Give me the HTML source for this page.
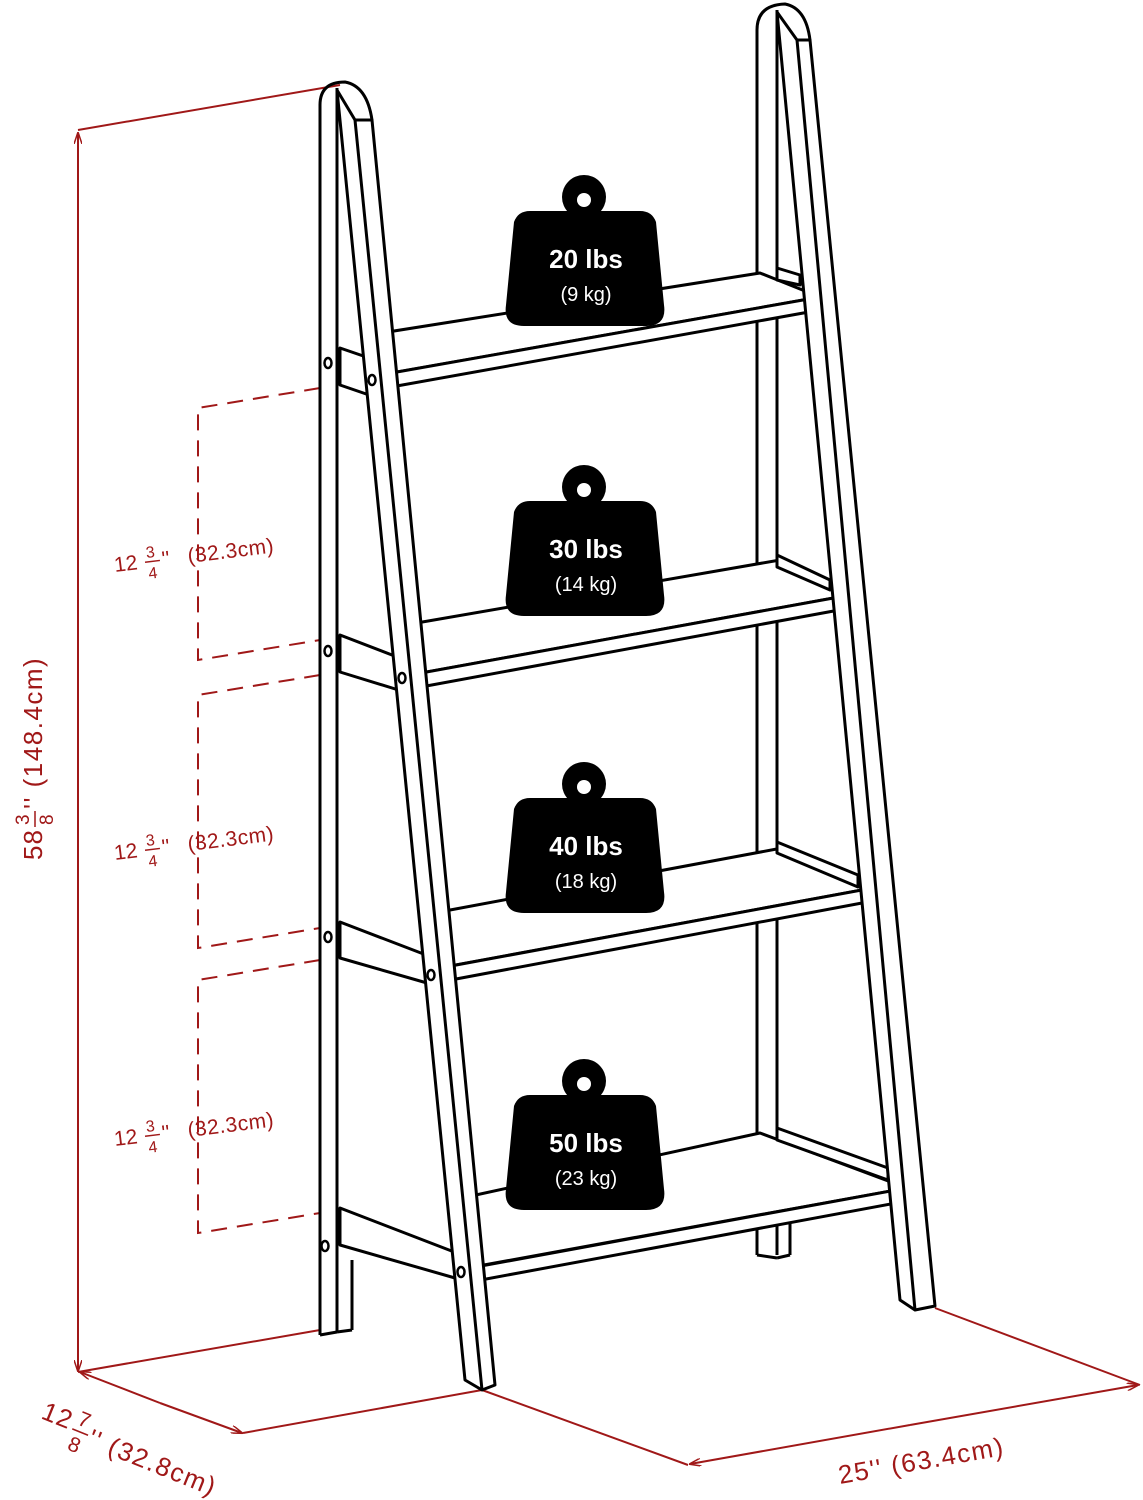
<!DOCTYPE html>
<html><head><meta charset="utf-8"><style>html,body{margin:0;padding:0;background:#fff}svg{display:block}</style></head>
<body>
<svg width="1143" height="1500" viewBox="0 0 1143 1500" xmlns="http://www.w3.org/2000/svg">
<defs>
<marker id="ar" viewBox="0 0 12 8" refX="11" refY="4" markerWidth="12" markerHeight="8" orient="auto" markerUnits="userSpaceOnUse">
<path d="M0,0 L12,4 L0,8" fill="none" stroke="#a01818" stroke-width="1.5"/></marker>
</defs>
<g stroke="#a01818" stroke-width="2" fill="none">
<line x1="78" y1="130" x2="340" y2="85"/>
<line x1="78" y1="1372" x2="320" y2="1330"/>
<line x1="78" y1="750" x2="78" y2="133" marker-end="url(#ar)"/>
<line x1="78" y1="750" x2="78" y2="1371" marker-end="url(#ar)"/>
<line x1="160" y1="1403" x2="80" y2="1372" marker-end="url(#ar)"/>
<line x1="160" y1="1403" x2="242" y2="1433" marker-end="url(#ar)"/>
<line x1="243" y1="1433" x2="482" y2="1390"/>
<line x1="482" y1="1390" x2="688" y2="1465"/>
<line x1="935" y1="1308" x2="1140" y2="1385"/>
<line x1="910" y1="1425" x2="690" y2="1464" marker-end="url(#ar)"/>
<line x1="910" y1="1425" x2="1138" y2="1385" marker-end="url(#ar)"/>
<g stroke-dasharray="16,10">
<path d="M320,388 L198,408 L198,660 L320,640"/>
<path d="M320,675 L198,695 L198,948 L320,928"/>
<path d="M320,960 L198,980 L198,1233 L320,1213"/>
</g>
</g>
<g fill="#a01818" font-family="Liberation Sans, sans-serif">
<g transform="translate(42,745) rotate(-90)">
<text x="-115" y="0" font-size="26" letter-spacing="1">58</text>
<text x="-80" y="-13" font-size="19">3</text>
<line x1="-82" y1="-7" x2="-66" y2="-7" stroke="#a01818" stroke-width="1.5"/>
<text x="-80" y="11" font-size="19">8</text>
<text x="-64" y="0" font-size="26" letter-spacing="1.5">'' (148.4cm)</text>
</g>
<g font-size="21">
<g transform="translate(115,572) rotate(-7)"><text x="0" y="0">12</text><text x="33" y="-10" font-size="16">3</text><line x1="31" y1="-6" x2="46" y2="-6" stroke="#a01818" stroke-width="1.5"/><text x="33" y="11" font-size="16">4</text><text x="48" y="0">''</text><text x="74" y="0" letter-spacing="0.5">(32.3cm)</text></g>
<g transform="translate(115,860) rotate(-7)"><text x="0" y="0">12</text><text x="33" y="-10" font-size="16">3</text><line x1="31" y1="-6" x2="46" y2="-6" stroke="#a01818" stroke-width="1.5"/><text x="33" y="11" font-size="16">4</text><text x="48" y="0">''</text><text x="74" y="0" letter-spacing="0.5">(32.3cm)</text></g>
<g transform="translate(115,1146) rotate(-7)"><text x="0" y="0">12</text><text x="33" y="-10" font-size="16">3</text><line x1="31" y1="-6" x2="46" y2="-6" stroke="#a01818" stroke-width="1.5"/><text x="33" y="11" font-size="16">4</text><text x="48" y="0">''</text><text x="74" y="0" letter-spacing="0.5">(32.3cm)</text></g>
</g>
<g transform="translate(840,1484) rotate(-10)" font-size="26" letter-spacing="1.5"><text x="0" y="0">25''  (63.4cm)</text></g>
<g transform="translate(40,1418) rotate(22)" font-size="26" letter-spacing="1"><text x="0" y="0">12</text><text x="36" y="-8" font-size="21">7</text><line x1="34" y1="-2" x2="51" y2="-2" stroke="#a01818" stroke-width="1.5"/><text x="36" y="19" font-size="21">8</text><text x="53" y="8" letter-spacing="1.5">''  (32.8cm)</text></g>
</g>
<g stroke="#000" stroke-width="3" fill="#fff" stroke-linejoin="round">
<path d="M757,1255 L757,30 Q757,5 785,4 Q806,8 810,40" fill="none"/>
<line x1="777" y1="10" x2="777" y2="1255"/>
<line x1="790" y1="1255" x2="790" y2="1180"/>
<line x1="757" y1="1255" x2="777" y2="1258"/><line x1="777" y1="1258" x2="790" y2="1255"/>
<path d="M320,1335 L320,105 Q320,82 345,82 Q367,86 372,120" fill="none"/>
<line x1="337" y1="88" x2="337" y2="1332"/>
<line x1="320" y1="1335" x2="337" y2="1332"/>
<line x1="337" y1="1332" x2="352" y2="1330"/>
<line x1="352" y1="1330" x2="352" y2="1260"/>
<g>
<path d="M340,348 L340,385 L375,397 L375,360 Z"/>
<path d="M375,334 L760,273 L820,297 L375,376 Z"/>
<path d="M380,375 L820,297 L820,310 L380,389 Z"/>
<path d="M777,268 L800,275 L800,285 L777,280 Z"/>
</g>
<g>
<path d="M340,635 L340,672 L405,692 L405,660 Z"/>
<path d="M405,625 L780,560 L850,595 L405,676 Z"/>
<path d="M410,675 L850,595 L850,608 L410,689 Z"/>
<path d="M777,555 L830,580 L830,590 L777,567 Z"/>
</g>
<g>
<path d="M340,922 L340,958 L434,985 L434,958 Z"/>
<path d="M434,913 L782,848 L878,887 L434,969 Z"/>
<path d="M440,968 L878,887 L878,900 L440,982 Z"/>
<path d="M777,842 L858,875 L858,887 L777,853 Z"/>
</g>
<g>
<path d="M340,1208 L340,1245 L462,1280 L462,1255 Z"/>
<path d="M462,1198 L760,1133 L907,1188 L462,1269 Z"/>
<path d="M470,1268 L907,1188 L907,1201 L470,1282 Z"/>
<path d="M777,1128 L888,1168 L888,1180 L777,1140 Z"/>
</g>
<path d="M337,90 L355,120 L372,120 L495,1385 L482,1390 L465,1380 Z"/>
<line x1="355" y1="120" x2="482" y2="1390"/>
<path d="M777,12 L797,40 L810,40 L935,1306 L915,1310 L900,1300 Z"/>
<line x1="797" y1="40" x2="915" y2="1310"/>
<g stroke-width="2.5">
<ellipse cx="328" cy="363" rx="3.5" ry="5"/><ellipse cx="372" cy="380" rx="3.5" ry="5"/>
<ellipse cx="328" cy="651" rx="3.5" ry="5"/><ellipse cx="402" cy="678" rx="3.5" ry="5"/>
<ellipse cx="328" cy="937" rx="3.5" ry="5"/><ellipse cx="431" cy="975" rx="3.5" ry="5"/>
<ellipse cx="325" cy="1246" rx="3.5" ry="5"/><ellipse cx="461" cy="1272" rx="3.5" ry="5"/>
</g>
</g>
<g font-family="Liberation Sans, sans-serif" text-anchor="middle" fill="#fff">
<g>
<circle cx="584" cy="197" r="22" fill="#000"/><circle cx="584" cy="200" r="7" fill="#fff"/>
<path d="M530,211 L640,211 Q652,211 656,222 L664,305 Q667,326 646,326 L524,326 Q503,326 506,305 L514,222 Q518,211 530,211Z" fill="#000"/>
<text x="586" y="268" font-size="26" font-weight="bold">20 lbs</text><text x="586" y="301" font-size="20">(9 kg)</text>
</g>
<g transform="translate(0,290)">
<circle cx="584" cy="197" r="22" fill="#000"/><circle cx="584" cy="200" r="7" fill="#fff"/>
<path d="M530,211 L640,211 Q652,211 656,222 L664,305 Q667,326 646,326 L524,326 Q503,326 506,305 L514,222 Q518,211 530,211Z" fill="#000"/>
<text x="586" y="268" font-size="26" font-weight="bold">30 lbs</text><text x="586" y="301" font-size="20">(14 kg)</text>
</g>
<g transform="translate(0,587)">
<circle cx="584" cy="197" r="22" fill="#000"/><circle cx="584" cy="200" r="7" fill="#fff"/>
<path d="M530,211 L640,211 Q652,211 656,222 L664,305 Q667,326 646,326 L524,326 Q503,326 506,305 L514,222 Q518,211 530,211Z" fill="#000"/>
<text x="586" y="268" font-size="26" font-weight="bold">40 lbs</text><text x="586" y="301" font-size="20">(18 kg)</text>
</g>
<g transform="translate(0,884)">
<circle cx="584" cy="197" r="22" fill="#000"/><circle cx="584" cy="200" r="7" fill="#fff"/>
<path d="M530,211 L640,211 Q652,211 656,222 L664,305 Q667,326 646,326 L524,326 Q503,326 506,305 L514,222 Q518,211 530,211Z" fill="#000"/>
<text x="586" y="268" font-size="26" font-weight="bold">50 lbs</text><text x="586" y="301" font-size="20">(23 kg)</text>
</g>
</g>
</svg>
</body></html>
